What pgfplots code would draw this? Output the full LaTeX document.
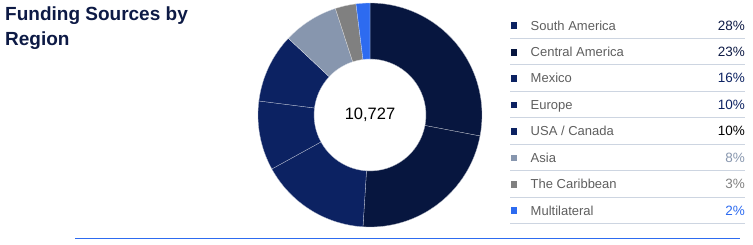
\documentclass[border=0pt]{standalone}
\usepackage{pgfplots}
\pgfplotsset{compat=1.18}
\usepackage{pgfplotstable}
\usepackage{fontspec}
\setmainfont{Liberation Sans}
\definecolor{titlec}{HTML}{0D1A45}
\definecolor{dk}{HTML}{07163F}
\definecolor{nv}{HTML}{0C2262}
\definecolor{asia}{HTML}{8796AE}
\definecolor{carib}{HTML}{808080}
\definecolor{multi}{HTML}{2D6BF0}
\definecolor{sep}{HTML}{CDD5E1}
\definecolor{lbl}{HTML}{5E5E5E}
\newcommand\usacan{USA / Canada}
\pgfplotstableread{
name value pie
SA 28 dk
CA 23 dk
MX 16 nv
EU 10 nv
US 10 nv
AS 8 asia
CB 3 carib
ML 2 multi
}\piedata
\begin{document}
\begin{tikzpicture}[x=1pt,y=1pt]
\useasboundingbox (0,0) rectangle (753,244);
% title
\node[anchor=base west,font=\bfseries\fontsize{19}{22}\selectfont,text=titlec,inner sep=0] at (5,223.5) {Funding Sources by};
\node[anchor=base west,font=\bfseries\fontsize{19}{22}\selectfont,text=titlec,inner sep=0] at (5,198) {Region};
% pie
\begin{axis}[at={(370,129)},anchor=center,x=1pt,y=1pt,
  xmin=-114,xmax=114,ymin=-114,ymax=114,hide axis,clip=false]
\def\startang{90}
\pgfplotsforeachungrouped \i in {0,...,7}{
  \pgfplotstablegetelem{\i}{value}\of\piedata
  \let\val\pgfplotsretval
  \pgfplotstablegetelem{\i}{pie}\of\piedata
  \let\col\pgfplotsretval
  \pgfmathsetmacro\endang{\startang-\val*3.6}
  \pgfmathsetmacro\xa{112*cos(\startang)}
  \pgfmathsetmacro\ya{112*sin(\startang)}
  \pgfmathsetmacro\xb{56*cos(\endang)}
  \pgfmathsetmacro\yb{56*sin(\endang)}
  \edef\tmp{\noexpand\fill[\col,draw=white!70!\col,line width=0.3pt]
    (axis cs:\xa,\ya) arc[start angle=\startang,end angle=\endang,radius=112pt]
    -- (axis cs:\xb,\yb) arc[start angle=\endang,end angle=\startang,radius=56pt] -- cycle;}
  \tmp
  \global\let\startang\endang
}
\node[font=\fontsize{16.5}{18}\selectfont] at (axis cs:0,0) {10,727};
\end{axis}
% legend
\foreach \n/\name/\pc/\sq/\pcol in {0/South America/28/nv/titlec,1/Central America/23/dk/titlec,2/Mexico/16/nv/nv,3/Europe/10/nv/nv,4/\usacan/10/nv/black,5/Asia/8/asia/asia,6/The Caribbean/3/carib/carib,7/Multilateral/2/multi/multi}{
  \pgfmathsetmacro\yc{244-25.7-26.45*\n}
  \fill[\sq] (510.5,\yc-3.4) rectangle (517.3,\yc+3.4);
  \node[anchor=base west,inner sep=0,font=\fontsize{13}{15}\selectfont,text=lbl] at (530.5,\yc-4.4) {\name};
  \node[anchor=base east,inner sep=0,font=\fontsize{13.5}{15}\selectfont,text=\pcol] at (745,\yc-4.4) {\pc\%};
  \draw[sep,line width=1pt] (510,\yc-12.7) -- (745,\yc-12.7);
}
\draw[multi,line width=1pt] (75,5.7) -- (740,5.7);
\end{tikzpicture}
\end{document}
